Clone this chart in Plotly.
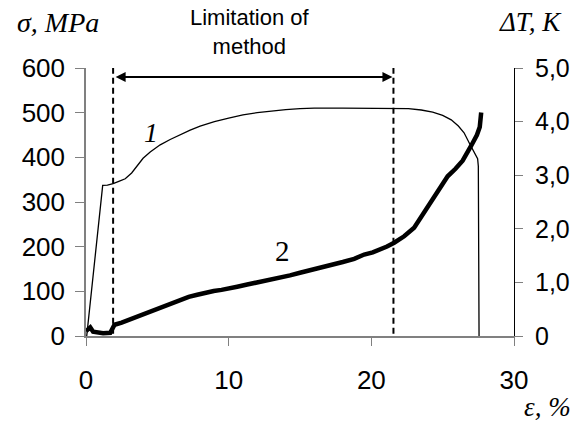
import plotly.graph_objects as go

# Curve 1: stress (MPa) vs strain (%)
strain_sigma = [0.05, 1.17, 1.5, 1.9, 2.3, 2.75, 3.2, 3.6, 4.0, 4.5, 5.2, 5.9, 6.6, 7.3, 8.0,
                9.0, 10.0, 11.0, 12.0, 13.0, 14.0, 15.0, 16.0, 18.0, 20.0, 22.0, 22.6, 23.5,
                24.3, 25.0, 25.6, 26.1, 26.5, 26.9, 27.2, 27.45, 27.5, 27.55]
sigma = [0, 337, 338, 341, 346, 352, 365, 382, 398, 412, 428, 440, 451, 461, 470,
         480, 488, 495, 500, 504, 507, 509, 510, 510, 510, 510, 509, 506,
         501, 494, 484, 470, 455, 430, 412, 397, 380, 0]

# Curve 2: temperature rise (K) vs strain (%)
strain_dT = [0.0, 0.15, 0.3, 0.5, 0.8, 1.2, 1.7, 1.9, 2.0, 2.5, 3.0, 3.6, 4.26, 4.9, 5.5,
             6.1, 6.6, 7.2, 7.8, 8.4, 8.95, 9.5, 10.0, 10.6, 11.3, 11.9, 12.5, 13.1, 13.6,
             14.3, 15.0, 15.8, 16.5, 17.2, 18.0, 18.8, 19.5, 20.1, 20.66, 21.1, 21.6,
             22.3, 23.0, 23.7, 24.4, 24.9, 25.35, 25.9, 26.4, 27.0, 27.4, 27.6, 27.7]
dT = [0.09, 0.14, 0.16, 0.08, 0.06, 0.05, 0.06, 0.15, 0.21, 0.25, 0.30, 0.36, 0.43, 0.50, 0.56,
      0.63, 0.68, 0.73, 0.77, 0.81, 0.84, 0.86, 0.88, 0.92, 0.96, 0.99, 1.02, 1.06, 1.09,
      1.13, 1.18, 1.23, 1.28, 1.33, 1.38, 1.44, 1.52, 1.56, 1.61, 1.67, 1.74,
      1.86, 2.02, 2.30, 2.61, 2.80, 2.98, 3.12, 3.27, 3.55, 3.75, 3.90, 4.17]

limit_x = [1.9, 21.55]
limit_y = [5, 600]
arrow_y = 580

x_ticks = [0, 10, 20, 30]
y_ticks = [0, 100, 200, 300, 400, 500, 600]
y2_ticks = [0, 1, 2, 3, 4, 5]
y2_labels = ["0", "1,0", "2,0", "3,0", "4,0", "5,0"]

fig = go.Figure()

fig.add_trace(go.Scatter(x=strain_sigma, y=sigma, mode="lines",
                         line=dict(color="black", width=1.3), showlegend=False))
fig.add_trace(go.Scatter(x=strain_dT, y=dT, mode="lines", yaxis="y2",
                         line=dict(color="black", width=4.5), showlegend=False))
for lx in limit_x:
    fig.add_trace(go.Scatter(x=[lx, lx], y=limit_y, mode="lines",
                             line=dict(color="black", width=2, dash="6px,4px"),
                             showlegend=False))

serif = "Liberation Serif"
sans = "Liberation Sans"

W, H = 571, 423
ml, mt = 86, 68
pw, ph = 428, 268
mr, mb = W - ml - pw, H - mt - ph


def paper_x(px):
    return (px - ml) / pw


def paper_y(py):
    return 1 - (py - mt) / ph


def label(px, py, text, size):
    return dict(x=paper_x(px), y=paper_y(py), xref="paper", yref="paper", text=text,
                showarrow=False, xanchor="center", yanchor="middle",
                font=dict(family=serif, size=size, color="black"))


annotations = [
    dict(x=limit_x[1], y=arrow_y, ax=limit_x[0], ay=arrow_y, xref="x", yref="y",
         axref="x", ayref="y", text="", showarrow=True, arrowhead=2, arrowside="end+start",
         arrowsize=1, arrowwidth=2, arrowcolor="black", standoff=1, startstandoff=1),
    dict(x=11.5, y=paper_y(32), xref="x", yref="paper", text="Limitation of<br>method",
         showarrow=False, font=dict(family=sans, size=22, color="black"),
         xanchor="center", yanchor="middle"),
    dict(x=4.57, y=455, xref="x", yref="y", text="<i>1</i>", showarrow=False,
         xanchor="center", yanchor="middle", font=dict(family=serif, size=28, color="black")),
    dict(x=13.77, y=191, xref="x", yref="y", text="2", showarrow=False,
         xanchor="center", yanchor="middle", font=dict(family=serif, size=29, color="black")),
    label(58, 22, "<i>σ, MPa</i>", 28),
    label(530, 22, "<i>ΔT, K</i>", 27),
    label(547, 407, "<i>ε, %</i>", 27),
]

fig.update_layout(
    width=W, height=H,
    margin=dict(l=ml, r=mr, t=mt, b=mb, autoexpand=False),
    plot_bgcolor="white", paper_bgcolor="white",
    font=dict(family=sans, size=26, color="black"),
    xaxis=dict(range=[0, 30], tickvals=x_ticks, ticks="outside", ticklen=8,
               tickcolor="#808080", showline=True, linecolor="#808080", linewidth=1.5,
               showgrid=False, zeroline=False, ticklabelstandoff=12, automargin=False),
    yaxis=dict(range=[0, 600], tickvals=y_ticks, ticks="outside", ticklen=9,
               tickcolor="#808080", showline=True, linecolor="#808080", linewidth=1.5,
               showgrid=False, zeroline=False, ticklabelstandoff=5, automargin=False),
    yaxis2=dict(range=[0, 5], tickvals=y2_ticks, ticktext=y2_labels, overlaying="y",
                side="right", ticks="outside", ticklen=8, tickcolor="#808080",
                showline=True, linecolor="black", linewidth=1, showgrid=False,
                zeroline=False, ticklabelstandoff=7, automargin=False,
                tickfont=dict(size=25)),
    annotations=annotations,
)

fig.write_html(
    "out.html",
    config={"displayModeBar": False},
    post_script="document.body.style.margin='0';document.body.style.overflow='hidden';",
)
